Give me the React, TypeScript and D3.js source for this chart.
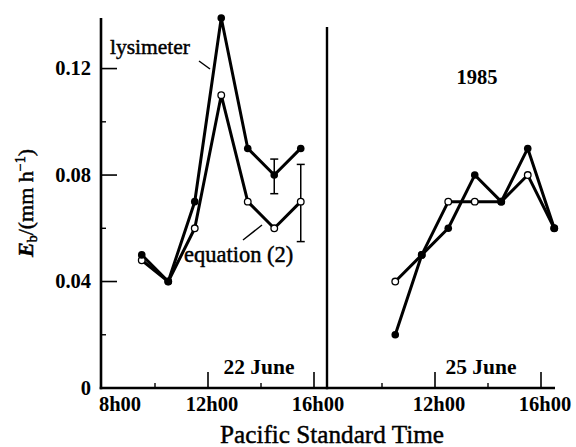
import React from "react";
import * as d3 from "d3";

const hours22 = [9.5, 10.5, 11.5, 12.5, 13.5, 14.5, 15.5];
const lysimeter22 = [0.05, 0.04, 0.07, 0.139, 0.09, 0.08, 0.09];
const equation22 = [0.048, 0.04, 0.06, 0.11, 0.07, 0.06, 0.07];
const hours25 = [10.5, 11.5, 12.5, 13.5, 14.5, 15.5, 16.5];
const lysimeter25 = [0.02, 0.05, 0.06, 0.08, 0.07, 0.09, 0.06];
const equation25 = [0.04, 0.05, 0.07, 0.07, 0.07, 0.08, 0.06];
const errHours = [14.5, 15.5];
const errLow = [0.073, 0.055];
const errHigh = [0.086, 0.084];
const yMajor = [0.04, 0.08, 0.12];
const yMinor = [0.02, 0.06, 0.1];
const yTickLabels = ["0.04", "0.08", "0.12"];
const xMajor = [12, 16];
const xMinor = [10, 14];
const xTickLabels = ["12h00", "16h00"];

const numFont = "'Liberation Serif', 'Times New Roman', serif";
const txtFont = "'Liberation Serif', 'Times New Roman', serif";

export default function App() {
  const W = 576, H = 447;
  const y = d3.scaleLinear().domain([0, 0.139]).range([388, 18]);
  const xL = d3.scaleLinear().domain([8, 16.5]).range([102, 327.25]);
  const xR = d3.scaleLinear().domain([8, 16.5]).range([329, 554.25]);
  const y0 = y(0);

  const mkLine = (xs: d3.ScaleLinear<number, number>, hrs: number[], vals: number[]) =>
    d3.line<number>().x((_, i) => xs(hrs[i])).y((v) => y(v))(vals) || "";

  const series = [
    { xs: xL, hrs: hours22, lys: lysimeter22, eq: equation22 },
    { xs: xR, hrs: hours25, lys: lysimeter25, eq: equation25 },
  ];
  const nf = 20.5;
  const thick = { stroke: "#000", strokeWidth: 0.45 };

  return (
    <svg width={W} height={H} style={{ display: "block", position: "absolute", left: 0, top: 0, background: "#fff" }}>
      <rect x={0} y={0} width={W} height={H} fill="#fff" />
      {/* axes */}
      <line x1={101} y1={y(0.139)} x2={101} y2={y0 + 1.2} stroke="#000" strokeWidth={2.6} />
      <line x1={327} y1={27} x2={327} y2={y0 + 1.2} stroke="#000" strokeWidth={2.4} />
      <line x1={99.7} y1={y0} x2={555} y2={y0} stroke="#000" strokeWidth={2.6} />
      {yMajor.map((v) => (
        <line key={"ym" + v} x1={101} x2={117} y1={y(v)} y2={y(v)} stroke="#000" strokeWidth={1.6} />
      ))}
      {yMinor.map((v) => (
        <line key={"yn" + v} x1={101} x2={106} y1={y(v)} y2={y(v)} stroke="#000" strokeWidth={1.4} />
      ))}
      {yMajor.map((v, i) => (
        <text key={"yl" + v} x={91} y={y(v) + 6.5} textAnchor="end" fontFamily={numFont} fontWeight="bold" fontSize={nf}>
          {yTickLabels[i]}
        </text>
      ))}
      <text x={91} y={y0 + 6.5} textAnchor="end" fontFamily={numFont} fontWeight="bold" fontSize={nf}>0</text>
      {[xL, xR].map((xs, k) => (
        <g key={"xt" + k}>
          {xMajor.map((h) => (
            <line key={"xm" + h} x1={xs(h)} x2={xs(h)} y1={y0} y2={y0 - 16} stroke="#000" strokeWidth={1.6} />
          ))}
          {xMinor.map((h) => (
            <line key={"xn" + h} x1={xs(h)} x2={xs(h)} y1={y0} y2={y0 - 5} stroke="#000" strokeWidth={1.4} />
          ))}
          {xMajor.map((h, i) => (
            <text key={"xl" + h} x={xs(h) + 4} y={411} textAnchor="middle" fontFamily={numFont} fontWeight="bold" fontSize={nf}>
              {xTickLabels[i]}
            </text>
          ))}
        </g>
      ))}
      <text x={xL(8) + 18} y={411} textAnchor="middle" fontFamily={numFont} fontWeight="bold" fontSize={nf}>8h00</text>

      {/* error bars */}
      {errHours.map((h, i) => (
        <g key={"eb" + h} stroke="#000" strokeWidth={1.5}>
          <line x1={xL(h)} x2={xL(h)} y1={y(errLow[i])} y2={y(errHigh[i])} />
          <line x1={xL(h) - 4} x2={xL(h) + 4} y1={y(errLow[i])} y2={y(errLow[i])} />
          <line x1={xL(h) - 4} x2={xL(h) + 4} y1={y(errHigh[i])} y2={y(errHigh[i])} />
        </g>
      ))}

      {/* series */}
      {series.map((s, k) => (
        <g key={"s" + k}>
          <path d={mkLine(s.xs, s.hrs, s.eq)} fill="none" stroke="#000" strokeWidth={3} strokeLinejoin="round" />
          <path d={mkLine(s.xs, s.hrs, s.lys)} fill="none" stroke="#000" strokeWidth={3} strokeLinejoin="round" />
          {s.eq.map((v, i) => (
            <circle key={"o" + i} cx={s.xs(s.hrs[i])} cy={y(v)} r={3.3} fill="#fff" stroke="#000" strokeWidth={1.3} />
          ))}
          {s.lys.map((v, i) => (
            <circle key={"f" + i} cx={s.xs(s.hrs[i])} cy={y(v)} r={3.8} fill="#000" />
          ))}
        </g>
      ))}

      {/* annotations */}
      <text x={110} y={54} fontFamily={txtFont} fontSize={21.5} {...thick}>lysimeter</text>
      <line x1={199} y1={61} x2={210} y2={69} stroke="#000" strokeWidth={1.4} />
      <text x={184} y={262} fontFamily={txtFont} fontSize={22.5} {...thick}>equation (2)</text>
      <line x1={243} y1={240} x2={262} y2={225} stroke="#000" strokeWidth={1.4} />
      <text x={477} y={84} textAnchor="middle" fontFamily={numFont} fontWeight="bold" fontSize={nf}>1985</text>
      <text x={259} y={374} textAnchor="middle" fontFamily={numFont} fontWeight="bold" fontSize={21.5}>22 June</text>
      <text x={481} y={374} textAnchor="middle" fontFamily={numFont} fontWeight="bold" fontSize={21.5}>25 June</text>

      {/* axis titles */}
      <text x={332} y={443} textAnchor="middle" fontFamily={txtFont} fontSize={25.2} {...thick}>
        Pacific Standard Time
      </text>
      <text transform="translate(33,203) rotate(-90)" textAnchor="middle" fontFamily={txtFont} fontSize={22} {...thick}>
        <tspan fontStyle="italic" fontWeight="bold">E</tspan>
        <tspan fontSize={14} dy={4}>b</tspan>
        <tspan dy={-4}>/(mm h</tspan>
        <tspan fontSize={14} dy={-8}>−1</tspan>
        <tspan dy={8}>)</tspan>
      </text>
    </svg>
  );
}
